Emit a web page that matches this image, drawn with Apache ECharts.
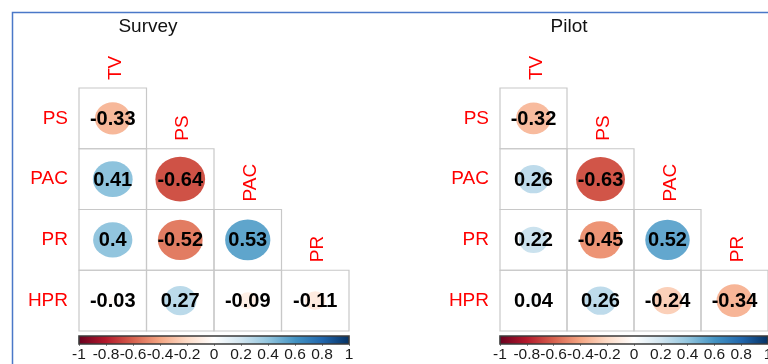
<!DOCTYPE html>
<html>
<head>
<meta charset="utf-8">
<script src="https://cdn.jsdelivr.net/npm/echarts@6/dist/echarts.min.js"></script>
<style>
html,body{margin:0;padding:0;background:#fff;}
#chart{width:768px;height:364px;}
</style>
</head>
<body>
<div id="chart"></div>
<script>
// ---- data ----
const rowLabels = ['PS', 'PAC', 'PR', 'HPR'];
const colLabels = ['TV', 'PS', 'PAC', 'PR'];
const panelTitles = ['Survey', 'Pilot'];
// lower-triangle correlations, row i has columns 0..i
const surveyValues = [
  [-0.33],
  [0.41, -0.64],
  [0.4, -0.52, 0.53],
  [-0.03, 0.27, -0.09, -0.11]
];
const pilotValues = [
  [-0.32],
  [0.26, -0.63],
  [0.22, -0.45, 0.52],
  [0.04, 0.26, -0.24, -0.34]
];
const colorbarMin = -1;
const colorbarMax = 1;
const colorbarStep = 0.2;
const colorbarTicks = [-1, -0.8, -0.6, -0.4, -0.2, 0, 0.2, 0.4, 0.6, 0.8, 1];

// ---- style ----
const palette = ['#67001F', '#B2182B', '#D6604D', '#F4A582', '#FDDBC7', '#FFFFFF',
                 '#D1E5F0', '#92C5DE', '#4393C3', '#2166AC', '#053061'];
const FONT = '"Liberation Sans", Arial, sans-serif';

function toItems(mat) {
  const out = [];
  mat.forEach((row, i) => row.forEach((v, j) => out.push([j, i, v])));
  return out;
}

function renderCell(params, api) {
  const xi = api.value(0), yi = api.value(1), v = api.value(2);
  const c = api.coord([xi, yi]);
  const s = api.size([1, 1]);
  const r = s[1] * 0.46 * Math.sqrt(Math.abs(v));
  const children = [
    { type: 'rect', shape: { x: c[0] - s[0] / 2, y: c[1] - s[1] / 2, width: s[0], height: s[1] },
      style: { fill: 'none', stroke: '#c8c8c8', lineWidth: 1.2 } },
    { type: 'circle', shape: { cx: 0, cy: 0, r: r }, x: c[0], y: c[1], scaleX: s[0] / s[1],
      style: { fill: api.visual('color') } },
    { type: 'text', x: c[0], y: c[1] + 1,
      style: { text: String(v), fill: '#000', fontSize: 20, fontWeight: 'bold', fontFamily: FONT,
               align: 'center', verticalAlign: 'middle' } }
  ];
  if (xi === yi) {
    children.push({ type: 'text', x: c[0] + 3, y: c[1] - s[1] / 2 - 8, rotation: Math.PI / 2,
      style: { text: colLabels[xi], fill: '#ff0000', fontSize: 19, fontFamily: FONT,
               align: 'left', verticalAlign: 'middle' } });
  }
  return { type: 'group', children: children };
}

function renderBar(params, api) {
  const p0 = api.coord([colorbarMin, 0]);
  const p1 = api.coord([colorbarMax, 1]);
  const stops = palette.map((col, k) => ({ offset: k / (palette.length - 1), color: col }));
  const children = [{
    type: 'rect',
    shape: { x: p0[0], y: p1[1], width: p1[0] - p0[0], height: p0[1] - p1[1] },
    style: { fill: { type: 'linear', x: 0, y: 0, x2: 1, y2: 0, colorStops: stops },
             stroke: '#3a3a3a', lineWidth: 1.6 }
  }];
  colorbarTicks.forEach(t => {
    const p = api.coord([t, 0]);
    children.push({ type: 'text', x: p[0], y: p0[1] + 10.5,
      style: { text: String(t), fill: '#1a1a1a', fontSize: 15.5, fontFamily: FONT,
               align: 'center', verticalAlign: 'middle' } });
  });
  return { type: 'group', children: children };
}

const gridDefs = [
  { left: 79, top: 88, width: 270, height: 243 },
  { left: 500, top: 88, width: 271, height: 243 },
  { left: 79, top: 336, width: 270, height: 8 },
  { left: 500, top: 336, width: 271, height: 8 }
];

const xAxes = [], yAxes = [];
[0, 1].forEach(k => {
  xAxes.push({ gridIndex: k, type: 'category', data: colLabels, show: false });
  yAxes.push({ gridIndex: k, type: 'category', data: rowLabels, inverse: true,
    axisLine: { show: false }, axisTick: { show: false }, splitLine: { show: false },
    axisLabel: { color: '#ff0000', fontSize: 19, fontFamily: FONT, margin: 11 } });
});
[2, 3].forEach(k => {
  xAxes.push({ gridIndex: k, type: 'value', min: colorbarMin, max: colorbarMax, interval: colorbarStep,
    axisLine: { show: false }, splitLine: { show: false },
    axisTick: { show: true, length: 2, lineStyle: { color: '#888' } },
    axisLabel: { show: false } });
  yAxes.push({ gridIndex: k, type: 'value', min: 0, max: 1, show: false });
});

const option = {
  backgroundColor: '#fff',
  animation: false,
  grid: gridDefs,
  xAxis: xAxes,
  yAxis: yAxes,
  visualMap: {
    type: 'continuous', show: false, min: colorbarMin, max: colorbarMax,
    dimension: 2, seriesIndex: [0, 1], inRange: { color: palette }
  },
  graphic: [
    { type: 'rect', silent: true, shape: { x: 12.5, y: 12.5, width: 900, height: 500 },
      style: { fill: 'none', stroke: '#4a78c8', lineWidth: 1.5 } },
    { type: 'text', x: 148, y: 27, style: { text: panelTitles[0], fill: '#111', fontSize: 19,
      fontFamily: FONT, align: 'center', verticalAlign: 'middle', textAlign: 'center', textVerticalAlign: 'middle' } },
    { type: 'text', x: 569, y: 27, style: { text: panelTitles[1], fill: '#111', fontSize: 19,
      fontFamily: FONT, align: 'center', verticalAlign: 'middle', textAlign: 'center', textVerticalAlign: 'middle' } }
  ],
  series: [
    { type: 'custom', xAxisIndex: 0, yAxisIndex: 0, data: toItems(surveyValues), renderItem: renderCell },
    { type: 'custom', xAxisIndex: 1, yAxisIndex: 1, data: toItems(pilotValues), renderItem: renderCell },
    { type: 'custom', xAxisIndex: 2, yAxisIndex: 2, data: [[colorbarMin, 0]], renderItem: renderBar, clip: false },
    { type: 'custom', xAxisIndex: 3, yAxisIndex: 3, data: [[colorbarMin, 0]], renderItem: renderBar, clip: false }
  ]
};

const chart = echarts.init(document.getElementById('chart'), null, { renderer: 'canvas' });
chart.setOption(option);
</script>
</body>
</html>
